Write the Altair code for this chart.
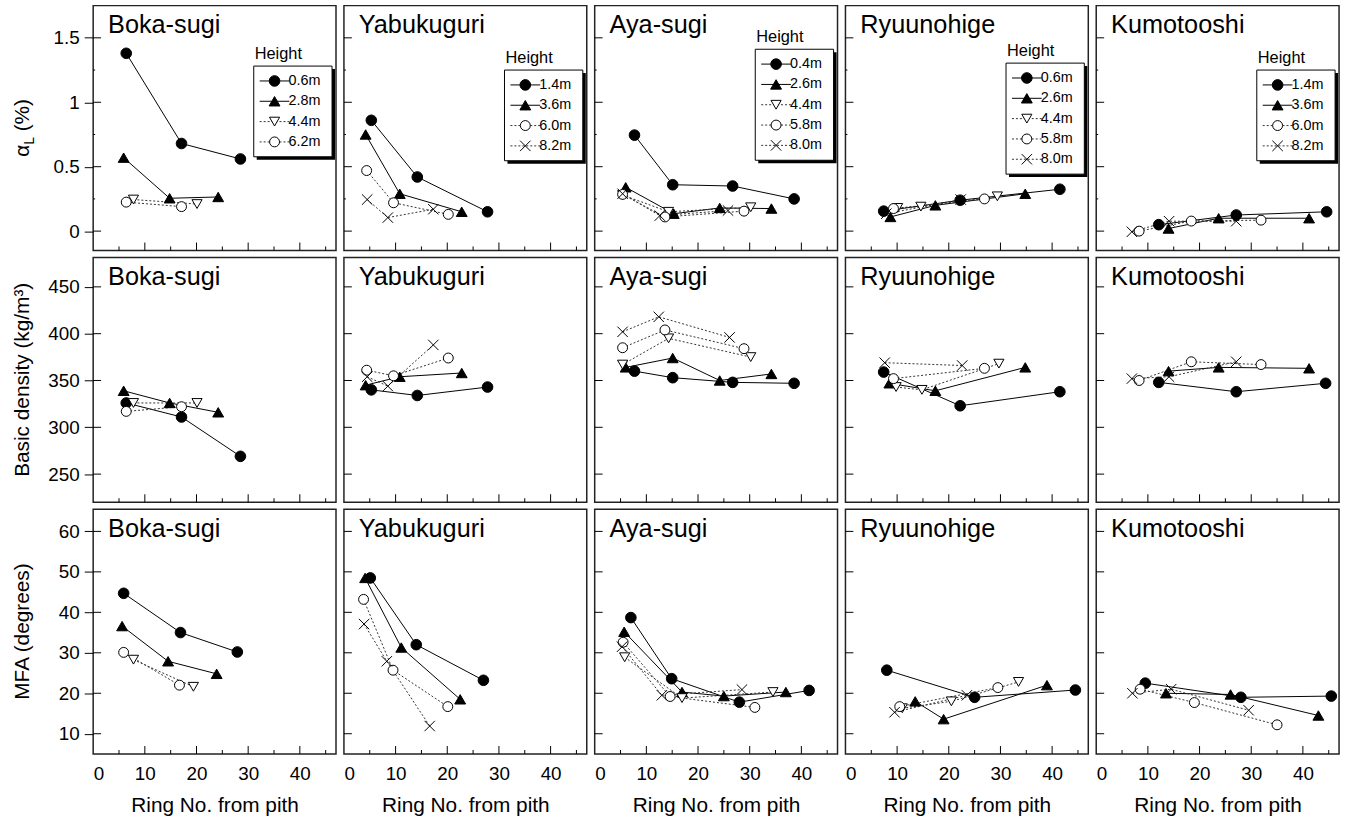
import altair as alt
import pandas as pd

W, H = 245, 247
X_DOMAIN = [0, 47]
Y_DOMAINS = [[-0.15, 1.75], [220, 481.5], [5, 65.5]]
Y_TICKS = [[0, 0.5, 1, 1.5], [250, 300, 350, 400, 450], [10, 20, 30, 40, 50, 60]]
Y_MINOR = [[0.25, 0.75, 1.25], [], []]
X_MAJOR = [10, 20, 30, 40]
X_MINOR = [5, 15, 25, 35, 45]
X_LABELS = [0, 10, 20, 30, 40]

SPECIES = ["Boka-sugi", "Yabukuguri", "Aya-sugi", "Ryuunohige", "Kumotooshi"]

HEIGHTS = {
    "Boka-sugi": ["0.6m", "2.8m", "4.4m", "6.2m"],
    "Yabukuguri": ["1.4m", "3.6m", "6.0m", "8.2m"],
    "Aya-sugi": ["0.4m", "2.6m", "4.4m", "5.8m", "8.0m"],
    "Ryuunohige": ["0.6m", "2.6m", "4.4m", "5.8m", "8.0m"],
    "Kumotooshi": ["1.4m", "3.6m", "6.0m", "8.2m"],
}
MARKERS = {
    "Boka-sugi": ["fc", "ft", "ot", "oc"],
    "Yabukuguri": ["fc", "ft", "oc", "x"],
    "Aya-sugi": ["fc", "ft", "ot", "oc", "x"],
    "Ryuunohige": ["fc", "ft", "ot", "oc", "x"],
    "Kumotooshi": ["fc", "ft", "oc", "x"],
}

# ---- alpha_L (%) : height -> (ring numbers, values)
BOKA_ALPHA = {"0.6m": ([6.4, 17.1, 28.5], [1.38, 0.68, 0.56]),
              "2.8m": ([5.9, 14.8, 24.2], [0.57, 0.255, 0.265]),
              "4.4m": ([7.8, 20.1], [0.245, 0.21]),
              "6.2m": ([6.4, 17.1], [0.225, 0.19])}
YABU_ALPHA = {"1.4m": ([5.3, 14.2, 27.8], [0.86, 0.42, 0.15]),
              "3.6m": ([4.2, 10.8, 22.8], [0.75, 0.29, 0.15]),
              "6.0m": ([4.4, 9.6, 20.2], [0.47, 0.22, 0.13]),
              "8.2m": ([4.5, 8.5, 17.3], [0.245, 0.105, 0.17])}
AYA_ALPHA = {"0.4m": ([7.7, 15.1, 26.7, 38.6], [0.745, 0.36, 0.35, 0.25]),
             "2.6m": ([6.0, 15.3, 24.2, 34.2], [0.34, 0.135, 0.18, 0.175]),
             "4.4m": ([5.4, 14.3, 30.2], [0.28, 0.15, 0.185]),
             "5.8m": ([5.4, 13.6, 28.9], [0.285, 0.11, 0.155]),
             "8.0m": ([5.4, 12.6, 25.8], [0.29, 0.12, 0.16])}
RYUU_ALPHA = {"0.6m": ([7.4, 22.2, 41.5], [0.155, 0.24, 0.325]),
              "2.6m": ([8.7, 17.4, 34.8], [0.11, 0.20, 0.29]),
              "4.4m": ([10.1, 14.6, 29.4], [0.18, 0.19, 0.27]),
              "5.8m": ([9.3, 26.9], [0.175, 0.25]),
              "8.0m": ([7.9, 22.3], [0.135, 0.245])}
KUMO_ALPHA = {"1.4m": ([12.1, 27.1, 44.6], [0.05, 0.125, 0.15]),
              "3.6m": ([14.0, 23.7, 41.2], [0.02, 0.10, 0.10]),
              "6.0m": ([8.3, 18.4, 31.9], [0.0, 0.078, 0.085]),
              "8.2m": ([6.9, 14.1, 27.1], [-0.005, 0.077, 0.077])}

# ---- Basic density (kg/m3)
BOKA_DENS = {"0.6m": ([6.4, 17.1, 28.5], [326, 311, 269]),
             "2.8m": ([5.9, 14.8, 24.2], [339, 326, 316]),
             "4.4m": ([7.8, 20.1], [326, 326]),
             "6.2m": ([6.4, 17.1], [317, 322])}
YABU_DENS = {"1.4m": ([5.3, 14.2, 27.8], [340, 334, 343]),
             "3.6m": ([4.2, 10.8, 22.8], [345, 354, 358]),
             "6.0m": ([4.4, 9.6, 20.2], [361, 355, 374]),
             "8.2m": ([4.5, 8.5, 17.3], [354, 344, 388])}
AYA_DENS = {"0.4m": ([7.7, 15.1, 26.7, 38.6], [360, 353, 348, 347]),
            "2.6m": ([6.0, 15.1, 24.2, 34.2], [364, 374, 350, 357]),
            "4.4m": ([5.4, 14.3, 30.2], [367, 395, 375]),
            "5.8m": ([5.4, 13.6, 28.9], [385, 404, 384]),
            "8.0m": ([5.4, 12.4, 26.1], [402, 418, 396])}
RYUU_DENS = {"0.6m": ([7.4, 22.2, 41.5], [359, 323, 338]),
             "2.6m": ([8.5, 17.4, 34.8], [347, 339, 364]),
             "4.4m": ([9.8, 14.8, 29.7], [343, 340, 368]),
             "5.8m": ([9.3, 26.9], [352, 363]),
             "8.0m": ([7.6, 22.6], [369, 366])}
KUMO_DENS = {"1.4m": ([12.1, 27.1, 44.4], [348, 338, 347]),
             "3.6m": ([14.0, 23.7, 41.2], [360, 364, 363]),
             "6.0m": ([8.3, 18.4, 31.9], [350, 370, 367]),
             "8.2m": ([6.9, 14.1, 27.1], [352, 354, 370])}

# ---- MFA (degrees)
BOKA_MFA = {"0.6m": ([5.9, 16.9, 27.9], [44.7, 35.0, 30.2]),
            "2.8m": ([5.6, 14.5, 23.9], [36.6, 27.9, 24.8]),
            "4.4m": ([7.8, 19.4], [28.3, 21.6]),
            "6.2m": ([5.9, 16.7], [30.1, 22.0])}
YABU_MFA = {"1.4m": ([5.1, 14.0, 27.0], [48.5, 32.0, 23.2]),
            "3.6m": ([4.1, 11.1, 22.5], [48.5, 31.3, 18.5]),
            "6.0m": ([3.8, 9.5, 20.1], [43.2, 25.7, 16.7]),
            "8.2m": ([3.9, 8.3, 16.6], [37.1, 27.9, 11.9])}
AYA_MFA = {"0.4m": ([7.0, 14.9, 28.0, 41.5], [38.7, 23.6, 17.8, 20.7]),
           "2.6m": ([5.7, 16.9, 25.0, 37.0], [35.2, 20.3, 19.3, 20.3]),
           "4.4m": ([5.8, 16.9, 34.5], [28.9, 18.8, 20.3]),
           "5.8m": ([5.5, 14.6, 31.0], [32.6, 19.2, 16.5]),
           "8.0m": ([5.3, 13.0, 28.5], [31.5, 19.5, 20.9])}
RYUU_MFA = {"0.6m": ([8.0, 25.0, 44.5], [25.7, 19.0, 20.8]),
            "2.6m": ([13.5, 19.0, 39.0], [18.0, 13.6, 22.0]),
            "4.4m": ([11.0, 20.5, 33.5], [16.3, 18.0, 22.8]),
            "5.8m": ([10.5, 29.5], [16.7, 21.4]),
            "8.0m": ([9.5, 23.5], [15.3, 19.5])}
KUMO_MFA = {"1.4m": ([9.5, 28.0, 45.5], [22.5, 19.0, 19.3]),
            "3.6m": ([13.5, 26.0, 43.0], [20.0, 19.7, 14.5]),
            "6.0m": ([8.5, 19.0, 35.0], [21.0, 17.7, 12.2]),
            "8.2m": ([7.0, 14.5, 29.5], [20.0, 21.0, 15.8])}

DATA = [
    [BOKA_ALPHA, YABU_ALPHA, AYA_ALPHA, RYUU_ALPHA, KUMO_ALPHA],
    [BOKA_DENS, YABU_DENS, AYA_DENS, RYUU_DENS, KUMO_DENS],
    [BOKA_MFA, YABU_MFA, AYA_MFA, RYUU_MFA, KUMO_MFA],
]

# marker styles: shape, fill, size, line style
STYLE = {
    "fc": ("circle", "black", 115, "solid"),
    "ft": ("triangle-up", "black", 120, "solid"),
    "ot": ("triangle-down", "white", 105, "dot"),
    "oc": ("circle", "white", 100, "dot"),
    "x": ("M-1,-1L1,1M-1,1L1,-1", "transparent", 110, "dot"),
}

LEGEND_TOP = {"Boka-sugi": 61, "Yabukuguri": 65, "Aya-sugi": 44,
              "Ryuunohige": 58, "Kumotooshi": 65}
LEG_LEFT, LEG_W, LEG_STEP = 162, 79, 20.5
FONT = "Liberation Sans"


def xd(px):
    return X_DOMAIN[0] + px / W * (X_DOMAIN[1] - X_DOMAIN[0])


def yd(py, dom):
    return dom[1] - py / H * (dom[1] - dom[0])


def panel(r, c):
    sp = SPECIES[c]
    data = DATA[r][c]
    hs = HEIGHTS[sp]
    mk = MARKERS[sp]
    ydom = Y_DOMAINS[r]
    rows = []
    for h, m in zip(hs, mk):
        xs_, ys_ = data[h]
        shape, fill, size, dash = STYLE[m]
        for xv, yv in zip(xs_, ys_):
            rows.append(dict(h=h, x=xv, y=yv, shape=shape, fill=fill, size=size, dash=dash))
    df = pd.DataFrame(rows)

    xscale = alt.Scale(domain=X_DOMAIN, nice=False, zero=False)
    yscale = alt.Scale(domain=ydom, nice=False, zero=False)
    if r == 2:
        xaxis = alt.Axis(values=X_LABELS, ticks=False, domain=False, grid=False,
                         labelFontSize=19, labelPadding=11, labelColor="black",
                         title="Ring No. from pith", titleFontSize=21, titlePadding=11,
                         titleFontWeight="normal", titleColor="black")
    else:
        xaxis = None
    if c == 0:
        yaxis = alt.Axis(values=Y_TICKS[r], tickSize=9, tickColor="black", tickWidth=1,
                         domain=False, grid=False, labelFontSize=19, labelPadding=5,
                         labelColor="black", title=None, labelExpr="'' + datum.value")
    else:
        yaxis = None
    X = alt.X("x:Q", scale=xscale, axis=xaxis)
    Y = alt.Y("y:Q", scale=yscale, axis=yaxis)

    layers = []
    # inward ticks
    layers.append(alt.Chart(pd.DataFrame({"x": X_MAJOR})).mark_rule(color="black", strokeWidth=1)
                  .encode(x=X, y=alt.value(H), y2=alt.value(H - 8)))
    layers.append(alt.Chart(pd.DataFrame({"x": X_MINOR})).mark_rule(color="black", strokeWidth=1)
                  .encode(x=X, y=alt.value(H), y2=alt.value(H - 4)))
    layers.append(alt.Chart(pd.DataFrame({"y": Y_TICKS[r]})).mark_rule(color="black", strokeWidth=1)
                  .encode(y=Y, x=alt.value(0), x2=alt.value(8)))
    if Y_MINOR[r]:
        layers.append(alt.Chart(pd.DataFrame({"y": Y_MINOR[r]})).mark_rule(color="black", strokeWidth=1)
                      .encode(y=Y, x=alt.value(0), x2=alt.value(2)))
    # series lines
    layers.append(alt.Chart(df).transform_filter(alt.datum.dash == "solid")
                  .mark_line(color="black", strokeWidth=1)
                  .encode(x=X, y=Y, detail="h:N"))
    layers.append(alt.Chart(df).transform_filter(alt.datum.dash == "dot")
                  .mark_line(color="#333", strokeWidth=1, strokeDash=[2, 2])
                  .encode(x=X, y=Y, detail="h:N"))
    # points
    layers.append(alt.Chart(df).mark_point(filled=True, stroke="black", strokeWidth=1, opacity=1)
                  .encode(x=X, y=Y,
                          shape=alt.Shape("shape:N", scale=None),
                          fill=alt.Fill("fill:N", scale=None),
                          size=alt.Size("size:Q", scale=None)))
    # panel title
    layers.append(alt.Chart(pd.DataFrame({"t": [sp]}))
                  .mark_text(align="left", baseline="alphabetic", fontSize=25.5, color="black")
                  .encode(text="t:N", x=alt.value(15), y=alt.value(28)))

    # legend in top row
    if r == 0:
        n = len(hs)
        top = LEGEND_TOP[sp]
        bh = 15 + (n - 1) * LEG_STEP + 15
        sh = pd.DataFrame({"x": [xd(LEG_LEFT + 3)], "x2": [xd(LEG_LEFT + LEG_W + 3)],
                           "y": [yd(top + 3, ydom)], "y2": [yd(top + bh + 3, ydom)]})
        bx = pd.DataFrame({"x": [xd(LEG_LEFT)], "x2": [xd(LEG_LEFT + LEG_W)],
                           "y": [yd(top, ydom)], "y2": [yd(top + bh, ydom)]})
        layers.append(alt.Chart(sh).mark_rect(color="black")
                      .encode(x=X, x2="x2:Q", y=Y, y2="y2:Q"))
        layers.append(alt.Chart(bx).mark_rect(fill="white", stroke="black", strokeWidth=1)
                      .encode(x=X, x2="x2:Q", y=Y, y2="y2:Q"))
        lrows, srows, trows = [], [], []
        for i, (h, m) in enumerate(zip(hs, mk)):
            shape, fill, size, dash = STYLE[m]
            py = yd(top + 15 + i * LEG_STEP, ydom)
            lrows.append(dict(x=xd(LEG_LEFT + 6), x2=xd(LEG_LEFT + 36), y=py, dash=dash))
            srows.append(dict(x=xd(LEG_LEFT + 21), y=py, shape=shape, fill=fill, size=size))
            trows.append(dict(x=xd(LEG_LEFT + 35), y=py, label=h))
        ldf = pd.DataFrame(lrows)
        layers.append(alt.Chart(ldf).transform_filter(alt.datum.dash == "solid")
                      .mark_rule(color="black", strokeWidth=1)
                      .encode(x=X, x2="x2:Q", y=Y))
        layers.append(alt.Chart(ldf).transform_filter(alt.datum.dash == "dot")
                      .mark_rule(color="#333", strokeWidth=1, strokeDash=[2, 2])
                      .encode(x=X, x2="x2:Q", y=Y))
        layers.append(alt.Chart(pd.DataFrame(srows))
                      .mark_point(filled=True, stroke="black", strokeWidth=1, opacity=1)
                      .encode(x=X, y=Y,
                              shape=alt.Shape("shape:N", scale=None),
                              fill=alt.Fill("fill:N", scale=None),
                              size=alt.Size("size:Q", scale=None)))
        layers.append(alt.Chart(pd.DataFrame(trows))
                      .mark_text(align="left", baseline="middle", fontSize=14.5, color="black")
                      .encode(x=X, y=Y, text="label:N"))
        layers.append(alt.Chart(pd.DataFrame({"t": ["Height"]}))
                      .mark_text(align="left", baseline="alphabetic", fontSize=16.5, color="black")
                      .encode(text="t:N", x=alt.value(LEG_LEFT + 1), y=alt.value(top - 7)))

    # row titles (y axis titles) in the first column
    if c == 0:
        cy = H / 2
        xb = -65
        if r == 0:
            pieces = [("α", cy + 23, 21, xb), ("L", cy + 13, 14, xb + 5), ("(%)", cy - 13, 21, xb)]
        elif r == 1:
            pieces = [("Basic density (kg/m³)", cy, 21, xb)]
        else:
            pieces = [("MFA (degrees)", cy, 21, xb)]
        for txt, py, fs, px in pieces:
            layers.append(alt.Chart(pd.DataFrame({"t": [txt]}))
                          .mark_text(align="center", baseline="alphabetic", angle=270,
                                     fontSize=fs, color="black")
                          .encode(text="t:N", x=alt.value(px), y=alt.value(py)))

    return alt.layer(*layers).properties(width=W, height=H)


charts = [panel(r, c) for r in range(3) for c in range(5)]

chart = (
    alt.concat(*charts, columns=5, spacing={"row": 4, "column": 5})
    .properties(padding={"left": 11, "top": 1, "right": 5, "bottom": 5},
                background="white")
    .configure(font=FONT)
    .configure_view(stroke="#222", strokeWidth=1.5)
)

chart.save("out.html", embed_options={"renderer": "svg", "actions": False})
